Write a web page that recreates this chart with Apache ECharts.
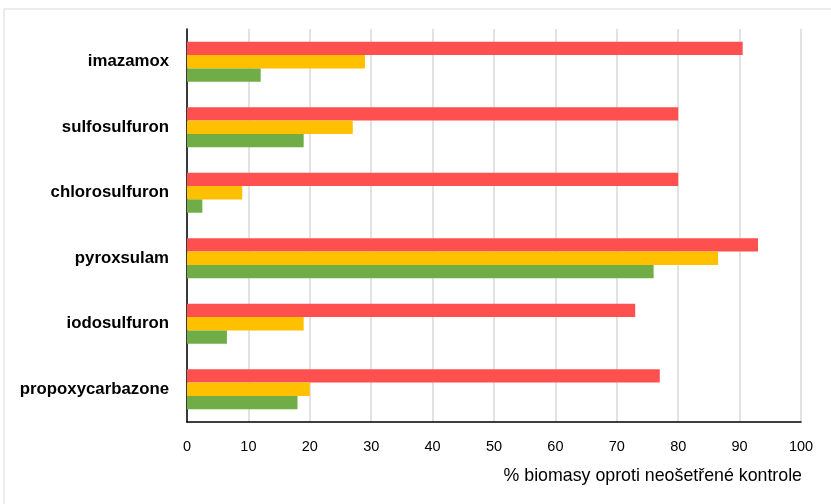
<!DOCTYPE html>
<html><head><meta charset="utf-8">
<script src="https://cdn.jsdelivr.net/npm/echarts@6/dist/echarts.min.js"></script>
<style>html,body{margin:0;padding:0;background:#fff}#c{width:831px;height:504px}</style>
</head><body><div id="c"></div>
<script>
const categories = ['imazamox','sulfosulfuron','chlorosulfuron','pyroxsulam','iodosulfuron','propoxycarbazone'];
const seriesRed = [90.5, 80, 80, 93, 73, 77];
const seriesYellow = [29, 27, 9, 86.5, 19, 20];
const seriesGreen = [12, 19, 2.5, 76, 6.5, 18];
const xTicks = [0,10,20,30,40,50,60,70,80,90,100];
const axisTitle = '% biomasy oproti neošetřené kontrole';

const chart = echarts.init(document.getElementById('c'), null, {renderer:'canvas'});
const font = 'Liberation Sans';
chart.setOption({
  animation:false,
  grid:{left:187, right:30, top:29, bottom:82, containLabel:false},
  xAxis:{type:'value', min:xTicks[0], max:xTicks[xTicks.length-1], interval:10,
    axisLine:{show:true, lineStyle:{color:'#000', width:1.5}},
    axisTick:{show:false},
    axisLabel:{fontFamily:font, fontSize:14.5, color:'#000', margin:17},
    splitLine:{show:true, lineStyle:{color:'#d9d9d9', width:1.5}}},
  yAxis:{type:'category', data:categories, inverse:true,
    axisLine:{show:true, lineStyle:{color:'#000', width:1.5}},
    axisTick:{show:false},
    axisLabel:{fontFamily:font, fontSize:16.8, fontWeight:'bold', color:'#000', margin:18}},
  series:[
    {type:'bar', data:seriesRed, itemStyle:{color:'#FF5050'}, barGap:'0%', barCategoryGap:'39%'},
    {type:'bar', data:seriesYellow, itemStyle:{color:'#FFC000'}, barGap:'0%', barCategoryGap:'39%'},
    {type:'bar', data:seriesGreen, itemStyle:{color:'#70AD47'}, barGap:'0%', barCategoryGap:'39%'}
  ],
  graphic:[
    {type:'rect', shape:{x:4, y:9, width:1000, height:1000}, style:{fill:'none', stroke:'#d9d9d9', lineWidth:1}, silent:true, z:-10},
    {type:'text', right:29, top:467, style:{text:axisTitle, fontFamily:font, fontSize:17.8, fill:'#000'}}
  ]
});
</script></body></html>
